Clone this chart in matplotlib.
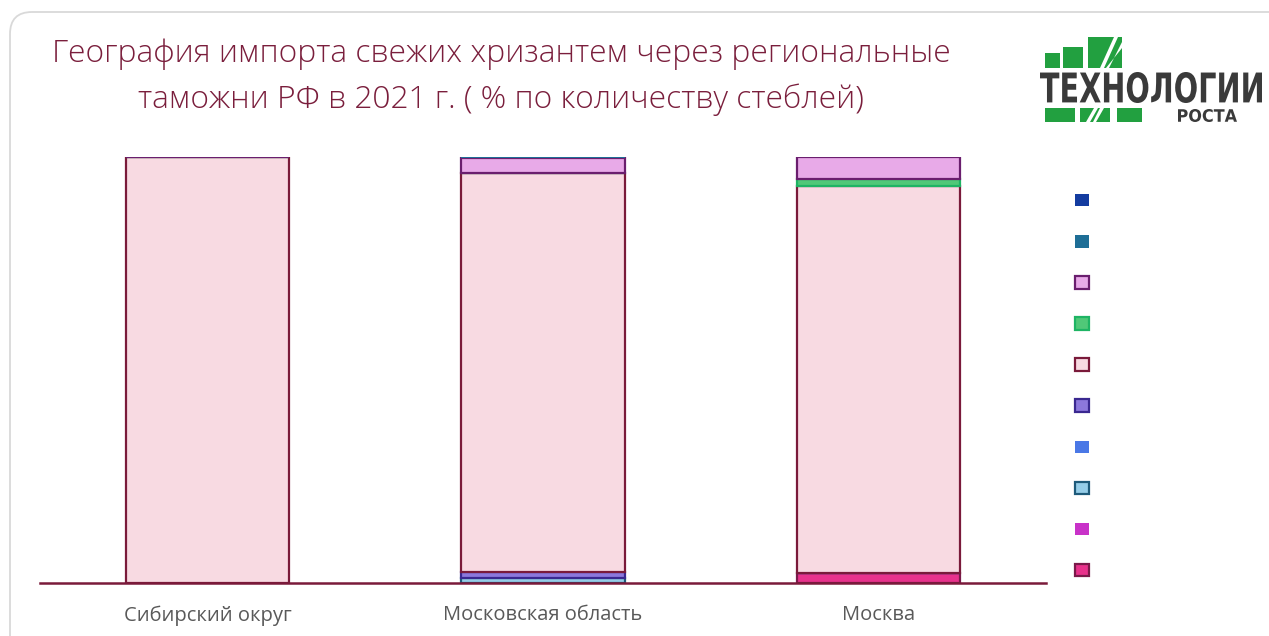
import matplotlib.pyplot as plt
from matplotlib.patches import FancyBboxPatch, Rectangle, Polygon, PathPatch
from matplotlib.textpath import TextPath
from matplotlib.font_manager import FontProperties
from matplotlib.transforms import Affine2D
import numpy as np

# --- data (share of stems, %) ---
regions = ['Сибирский округ', 'Московская область', 'Москва']

# series listed bottom -> top of the stack
series_colors = ['#E8328C', '#C832C8', '#96CDE8', '#4A78E6', '#8C78DC',
                 '#F8DAE2', '#50C878', '#E8AAE8', '#1E6E96', '#143CA0']
series_edges = ['#7A1A4A', None, '#1E5A7A', None, '#3A2890',
                '#7A1A3A', '#1EB464', '#6A1E6E', None, None]
values = [
    [0.0, 0.0, 2.4],    # pink
    [0.0, 0.0, 0.0],    # magenta
    [0.0, 1.1, 0.0],    # light blue
    [0.0, 0.0, 0.0],    # blue
    [0.0, 1.4, 0.0],    # purple
    [100.0, 93.8, 90.8],  # light pink
    [0.0, 0.0, 1.6],    # green
    [0.0, 3.4, 5.2],    # lavender
    [0.0, 0.3, 0.0],    # teal
    [0.0, 0.0, 0.0],    # dark blue
]

title = 'География импорта свежих хризантем через региональные\nтаможни РФ в 2021 г. ( % по количеству стеблей)'
title_color = '#7A1E3C'

W, H = 1269, 636
fig = plt.figure(figsize=(W / 100, H / 100), dpi=100)

# overlay axes in pixel coordinates for frame, title and logo
bg = fig.add_axes([0, 0, 1, 1])
bg.set_xlim(0, W)
bg.set_ylim(H, 0)
bg.axis('off')
bg.add_patch(FancyBboxPatch((10, 12), W + 20, H + 20,
                            boxstyle='round,pad=0,rounding_size=22',
                            fc='white', ec='#D9D9D9', lw=1.3))

bg.text(501, 77, title, ha='center', va='center', fontsize=22.9,
        family='Open Sans', weight=300, color=title_color, linespacing=1.55)


def boxed_text(s, x0, x1, y0, y1, color):
    # text squeezed into a pixel box (logo lettering is condensed)
    tp = TextPath((0, 0), s, size=10,
                  prop=FontProperties(family='DejaVu Sans', weight='bold'))
    ext = tp.get_extents()
    tr = (Affine2D().translate(-ext.x0, -ext.y0)
          .scale((x1 - x0) / ext.width, -(y1 - y0) / ext.height)
          .translate(x0, y1))
    bg.add_patch(PathPatch(tr.transform_path(tp), fc=color, ec='none'))


# --- logo ---
green = '#22A040'
for x0, y0, w, h in [(1045, 53, 15, 15), (1063, 47, 20, 21), (1088, 37, 34, 31),
                     (1045, 108, 30, 14), (1080, 108, 30, 14), (1117, 108, 25, 14)]:
    bg.add_patch(Rectangle((x0, y0), w, h, fc=green, ec='none'))
for pts in [[(1100, 68), (1104, 68), (1118, 37), (1114, 37)],
            [(1106, 68), (1109, 68), (1122, 42), (1122, 48)],
            [(1086, 122), (1090, 122), (1098, 108), (1094, 108)],
            [(1093, 122), (1096, 122), (1104, 108), (1100, 108)]]:
    bg.add_patch(Polygon(pts, closed=True, fc='white', ec='none'))
boxed_text('ТЕХНОЛОГИИ', 1040, 1262, 72, 103, '#3A3A3A')
boxed_text('РОСТА', 1178, 1237, 109, 122, '#3A3A3A')

# --- chart ---
ax = fig.add_axes([40 / W, 1 - 583 / H, (1046 - 40) / W, (583 - 157) / H])
x = np.arange(len(regions))
bottom = np.zeros(len(regions))
handles = []
for vals, c, e in zip(values, series_colors, series_edges):
    vals = np.array(vals)
    ax.bar(x, vals, 0.487, bottom=bottom, color=c,
           edgecolor=e if e else 'none', linewidth=1.6 if e else 0, zorder=2)
    bottom += vals
    handles.append(Rectangle((0, 0), 1, 1, fc=c, ec=e if e else c,
                             lw=1.6 if e else 0))

ax.set_xlim(-0.5, 2.5)
ax.set_ylim(0, 100)
ax.set_xticks(x)
ax.set_xticklabels(regions, fontsize=14.5, color='#595959', family='Open Sans')
ax.tick_params(axis='x', length=0, pad=16)
ax.set_yticks([])
for s in ['top', 'right', 'left']:
    ax.spines[s].set_visible(False)
ax.spines['bottom'].set_color('#7A1A3A')
ax.spines['bottom'].set_linewidth(1.8)
ax.spines['bottom'].set_zorder(3)
ax.patch.set_alpha(0)

fig.legend(handles[::-1], [''] * len(handles), loc='upper left',
           bbox_to_anchor=(1075 / W, 1 - 194 / H), frameon=False,
           fontsize=10, handlelength=1.0, handleheight=1.0,
           handletextpad=0, labelspacing=1.95, borderpad=0, borderaxespad=0)

fig.savefig('out.png', dpi=100)
